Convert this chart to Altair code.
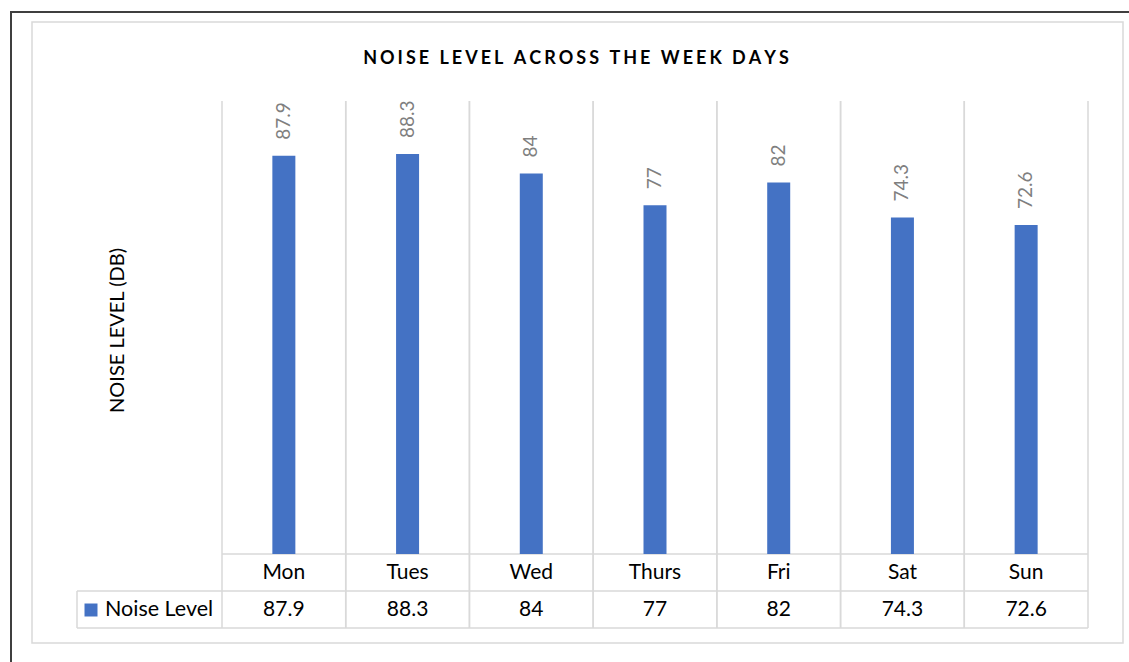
import altair as alt
import pandas as pd

days = ["Mon", "Tues", "Wed", "Thurs", "Fri", "Sat", "Sun"]
noise = [87.9, 88.3, 84, 77, 82, 74.3, 72.6]
series_name = "Noise Level"
title_text = "NOISE LEVEL ACROSS THE WEEK DAYS"
y_title = "NOISE LEVEL (DB)"

df = pd.DataFrame({"day": days, "value": noise, "label": [f"{v:g}" for v in noise]})

W, H = 866, 453
BLUE = "#4472C4"
GRID = "#d9d9d9"
FONT = "Lato"

one = pd.DataFrame({"k": [0]})
spaced_title = " ".join("\u2006".join(w) for w in title_text.split(" "))
spaced_title = spaced_title.replace(" ", "\u2006 \u2006")

x_enc = alt.X("day:N", sort=days, axis=None, scale=alt.Scale(paddingInner=0, paddingOuter=0))

outer = alt.Chart(one).mark_rect(fillOpacity=0, stroke="#3f3f3f", strokeWidth=2).encode(
    x=alt.value(-211), x2=alt.value(940), y=alt.value(-89), y2=alt.value(600))
inner = alt.Chart(one).mark_rect(fillOpacity=0, stroke=GRID, strokeWidth=1.5).encode(
    x=alt.value(-190), x2=alt.value(901), y=alt.value(-79), y2=alt.value(542))

grid0 = alt.Chart(df).mark_rule(color=GRID, strokeWidth=1.5).encode(
    x=alt.X("day:N", sort=days, axis=None, bandPosition=0,
            scale=alt.Scale(paddingInner=0, paddingOuter=0)),
    y=alt.value(0), y2=alt.value(527))
grid1 = alt.Chart(df).mark_rule(color=GRID, strokeWidth=1.5).encode(
    x=alt.X("day:N", sort=days, axis=None, bandPosition=1,
            scale=alt.Scale(paddingInner=0, paddingOuter=0)),
    y=alt.value(0), y2=alt.value(527))
h1 = alt.Chart(one).mark_rule(color=GRID, strokeWidth=1.5).encode(
    x=alt.value(0), x2=alt.value(W), y=alt.value(H))
h2 = alt.Chart(one).mark_rule(color=GRID, strokeWidth=1.5).encode(
    x=alt.value(-145), x2=alt.value(W), y=alt.value(490))
h3 = alt.Chart(one).mark_rule(color=GRID, strokeWidth=1.5).encode(
    x=alt.value(-145), x2=alt.value(W), y=alt.value(527))
v0 = alt.Chart(one).mark_rule(color=GRID, strokeWidth=1.5).encode(
    x=alt.value(-145), y=alt.value(490), y2=alt.value(527))

bars = alt.Chart(df).mark_bar(size=23, color=BLUE).encode(
    x=x_enc,
    y=alt.Y("value:Q", scale=alt.Scale(domain=[0, 100], nice=False),
            axis=alt.Axis(title=y_title, labels=False, ticks=False, domain=False, grid=False,
                          titleX=-105, titleY=229, titleFont=FONT, titleFontSize=20,
                          titleFontWeight="normal", titleColor="#000000",
                          titleBaseline="middle", titleAlign="center")),
)

labels = alt.Chart(df).mark_text(angle=270, align="left", baseline="middle", dx=16,
                                 font=FONT, fontSize=19, color="#7f7f7f").encode(
    x=x_enc, y=alt.Y("value:Q"), text="label:N")

cat_row = alt.Chart(df).mark_text(font=FONT, fontSize=21, color="#000000", baseline="middle").encode(
    x=x_enc, y=alt.value(471.5), text="day:N")
val_row = alt.Chart(df).mark_text(font=FONT, fontSize=21, color="#000000", baseline="middle").encode(
    x=x_enc, y=alt.value(508.5), text="label:N")

legend_key = alt.Chart(pd.DataFrame({"s": [series_name]})).mark_square(size=169, color=BLUE, opacity=1).encode(
    x=alt.value(-131), y=alt.value(509))
legend_txt = alt.Chart(pd.DataFrame({"s": [series_name]})).mark_text(
    font=FONT, fontSize=21.5, align="left", baseline="middle", color="#000000").encode(
    x=alt.value(-117), y=alt.value(508.5), text="s:N")

title = alt.Chart(pd.DataFrame({"t": [spaced_title]})).mark_text(
    font=FONT, fontSize=18, fontWeight="bold", align="center", baseline="alphabetic",
    color="#000000").encode(x=alt.value(354), y=alt.value(-37), text="t:N")

chart = alt.layer(outer, inner, grid0, grid1, h1, h2, h3, v0, bars, labels,
                  cat_row, val_row, legend_key, legend_txt, title).properties(
    width=W, height=H,
    autosize=alt.AutoSizeParams(type="none"),
    padding={"left": 222, "top": 101, "right": 41, "bottom": 108},
    background="#ffffff",
).configure_view(stroke=None)

chart.save("out.html", embed_options={"renderer": "svg", "actions": False})
